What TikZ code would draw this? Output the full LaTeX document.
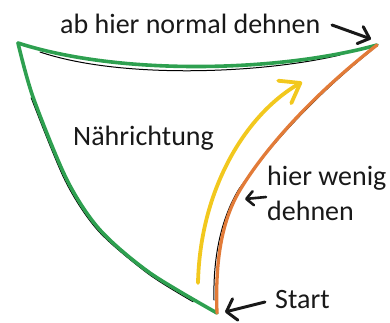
\documentclass[tikz,border=0pt]{standalone}
\usepackage{fontspec}
\setmainfont{Carlito}
\usetikzlibrary{arrows.meta}
\definecolor{seamgreen}{RGB}{46,160,80}
\definecolor{seamorange}{RGB}{226,123,56}
\definecolor{seamyellow}{RGB}{242,200,30}
\definecolor{inktext}{RGB}{25,25,25}
\begin{document}
\begin{tikzpicture}[x=1pt,y=-1pt,
  lbl/.style={anchor=base west, inner sep=0pt, font=\fontsize{28}{30}\selectfont, text=inktext},
  edgeline/.style={line width=3.6pt, line join=round, line cap=round},
  shadowline/.style={line width=1pt, black, line cap=round},
  pointer/.style={line width=3pt, line cap=round, inktext,
    -{Straight Barb[length=9pt,width=20pt,line cap=round,line join=round]}}]
\useasboundingbox (0,0) rectangle (390,322);

% corners
\coordinate (tl) at (18,43);
\coordinate (tr) at (377,45);
\coordinate (bt) at (217,313);
\coordinate (om) at (240,190);

% faint black pencil lines underneath
\draw[shadowline] (40,52) .. controls (120,79) and (260,74) .. (340,55);
\draw[shadowline, shift={(-1.8,0.8)}] plot[smooth] coordinates {(33,97) (67,180) (100,230) (150,273) (195,301)};
\draw[shadowline] (214,300) .. controls (213,260) and (220,220) .. (239,189)
   .. controls (259,161) and (301,107) .. (372,50);

% green edges
\draw[edgeline, seamgreen] (tl) .. controls (120,76) and (280,72) .. (tr);
\draw[edgeline, seamgreen] plot[smooth] coordinates {(18,43) (33,97) (67,180) (100,230) (150,273) (217,313)};

% orange edge
\draw[edgeline, seamorange, line width=3.3pt] (bt) .. controls (215,260) and (222,220) .. (om)
   .. controls (258,160) and (300,105) .. (tr);

% yellow arrow
\coordinate (ys) at (198,283);
\coordinate (ye) at (302,82);
\draw[line width=3.8pt, seamyellow, line cap=round,
  -{Straight Barb[length=18pt,width=26pt,line cap=round,line join=round]}]
  (ys) .. controls (200,190) and (245,115) .. (ye);

% labels
\node[lbl] (top) at (60,33) {ab hier normal dehnen};
\node[lbl] (naeh) at (73,145) {Nährichtung};
\node[lbl] (wenig) at (267,185) {hier wenig};
\node[lbl] (dehn) at (267,220) {dehnen};
\node[lbl] (start) at (275,308) {Start};

% black pointers
\coordinate (topTail) at (332,25);
\coordinate (topTip) at (371,39);
\draw[pointer, -{Straight Barb[length=10pt,width=18pt,line cap=round,line join=round]}] (topTail) -- (topTip);

\coordinate (wTail) at (266,197);
\coordinate (wTip) at (245,199);
\draw[pointer, line width=2.6pt, -{Straight Barb[length=7pt,width=14pt,line cap=round,line join=round]}] (wTail) -- (wTip);

\coordinate (sTail) at (265,302);
\coordinate (sTip) at (225,312);
\draw[pointer, -{Straight Barb[length=9pt,width=22pt,line cap=round,line join=round]}] (sTail) -- (sTip);
\end{tikzpicture}
\end{document}
